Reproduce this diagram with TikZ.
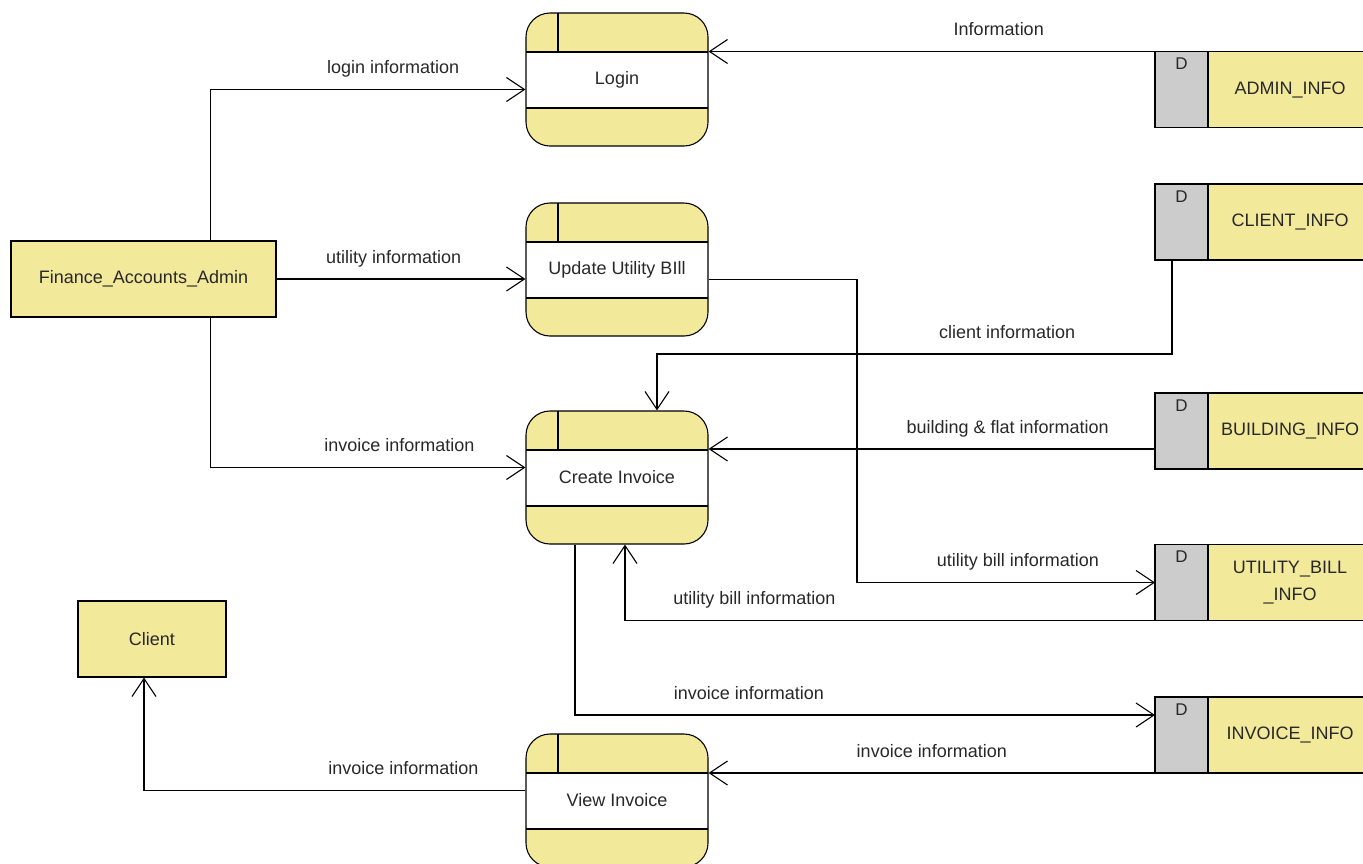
\documentclass[tikz,border=0pt]{standalone}
\usepackage{fontspec}
\setmainfont{Liberation Sans}
\usepackage{tikz}
\usetikzlibrary{positioning,arrows.meta}
\definecolor{procyellow}{RGB}{242,233,155}
\definecolor{storegray}{RGB}{204,204,204}
\definecolor{inkgray}{RGB}{40,40,40}

\begin{document}
\begin{tikzpicture}[x=1pt, y=-1pt, >={Straight Barb[length=18pt,width=24pt]},
                    line width=1.1pt, text=inkgray, font=\fontsize{18}{27}\selectfont]
  \tikzstyle{entity}=[draw, fill=procyellow, minimum width=265pt, minimum height=76pt]
  \tikzstyle{process}=[draw, fill=procyellow, rounded corners=24pt,
      minimum width=182pt, minimum height=133pt,
      path picture={
        \fill[white, sharp corners] ([yshift=-39pt]path picture bounding box.north west)
          rectangle ([yshift=38pt]path picture bounding box.south east);
        \draw[sharp corners] ([yshift=-39pt]path picture bounding box.north west)
          -- ([yshift=-39pt]path picture bounding box.north east);
        \draw[sharp corners] ([yshift=38pt]path picture bounding box.south west)
          -- ([yshift=38pt]path picture bounding box.south east);
        \draw[sharp corners] ([xshift=32pt]path picture bounding box.north west)
          -- ([xshift=32pt,yshift=-39pt]path picture bounding box.north west);
      }]
  \tikzstyle{dtab}=[draw, fill=storegray, outer sep=0pt, minimum width=53pt,
      minimum height=76pt, label={[anchor=north, inner sep=0pt, yshift=-6pt,
      font=\fontsize{17}{20}\selectfont]north:D}]
  \tikzstyle{store}=[draw, fill=procyellow, outer sep=0pt, minimum width=164pt,
      minimum height=76pt, align=center]
  \tikzstyle{flow}=[->]
  \tikzstyle{lbl}=[inner sep=0pt, text height=13pt, text depth=4pt]

  \useasboundingbox (0,0) rectangle (1363,863);

  % external entities
  \node[entity] (fin) at (143.5,279) {Finance\_Accounts\_Admin};
  \node[entity, minimum width=148pt] (client) at (152,639) {Client};

  % processes
  \node[process] (login)  at (617,79.5)  {Login};
  \node[process] (update) at (617,269.5) {Update Utility BIll};
  \node[process] (create) at (617,477.5) {Create Invoice};
  \node[process] (view)   at (617,800.5) {View Invoice};

  % data stores
  \node[dtab] (adminD)  at (1181.5,89.5) {};
  \node[store, right=0pt of adminD] (adminInfo) {ADMIN\_INFO};
  \node[dtab] (clientD) at (1181.5,222) {};
  \node[store, right=0pt of clientD] (clientInfo) {CLIENT\_INFO};
  \node[dtab] (buildD)  at (1181.5,431) {};
  \node[store, right=0pt of buildD] (buildInfo) {BUILDING\_INFO};
  \node[dtab] (utilD)   at (1181.5,582.5) {};
  \node[store, right=0pt of utilD] (utilInfo) {UTILITY\_BILL\\\_INFO};
  \node[dtab] (invD)    at (1181.5,735) {};
  \node[store, right=0pt of invD] (invInfo) {INVOICE\_INFO};

  % flows
  \draw[flow] ([xshift=67pt]fin.north) |- node[lbl, pos=0.79, above=11pt] {login information}
        ([yshift=-10pt]login.west);
  \draw[flow] (fin.east) -- node[lbl, pos=0.47, above=11pt] {utility information}
        (fin.east -| update.west);
  \draw[flow] ([xshift=67pt]fin.south) |- node[lbl, pos=0.80, above=11pt] {invoice information}
        ([yshift=10pt]create.west);
  \draw[flow] (adminD.north west) -- node[lbl, pos=0.35, above=11pt] {Information}
        (adminD.north west -| login.east);
  \draw[flow] ([xshift=17pt]clientD.south west) -- ++(0,94)
        -| node[lbl, pos=0.16, above=11pt] {client information} ([xshift=40pt]create.north);
  \draw[flow] ([yshift=-18pt]buildD.west) -- node[lbl, pos=0.33, above=11pt] {building \& flat information}
        ([yshift=-18pt]buildD.west -| create.east);
  \draw[flow] ([yshift=-10pt]update.east) -| ([xshift=-298pt]utilD.west)
        -- node[lbl, pos=0.54, above=11pt] {utility bill information} (utilD.west);
  \draw[flow] (utilD.south west) -| node[lbl, pos=0.378, above=11pt] {utility bill information}
        ([xshift=8pt]create.south);
  \draw[flow] ([xshift=-42pt]create.south) |- node[lbl, pos=0.65, above=11pt] {invoice information}
        ([yshift=20pt]invD.west);
  \draw[flow] (invD.south west) -- node[lbl, pos=0.5, above=11pt] {invoice information}
        (invD.south west -| view.east);
  \draw[flow] ([yshift=10pt]view.west) -| node[lbl, pos=0.16, above=11pt] {invoice information}
        ([xshift=-8pt]client.south);
\end{tikzpicture}
\end{document}
